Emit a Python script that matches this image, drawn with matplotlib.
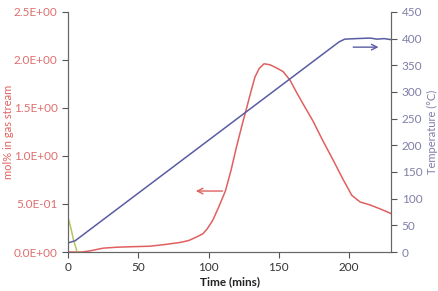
import matplotlib
matplotlib.use('Agg')
import matplotlib.pyplot as plt

plt.rcParams['font.family'] = ['Lato', 'DejaVu Sans']

# mol% in gas stream (red)
time_mol = [0, 5, 10, 15, 20, 25, 35, 45, 58, 70, 80, 86, 92, 96, 99, 103,
            107, 112, 116, 120, 124, 127.5, 130, 133, 136, 139.5, 143.7, 148,
            153, 158, 162, 167, 174.5, 181, 188.6, 196, 202, 208, 215, 222, 230]
mol = [0.0, 0.0, 0.0, 0.01, 0.025, 0.04, 0.05, 0.055, 0.06, 0.08, 0.10,
       0.12, 0.16, 0.19, 0.24, 0.33, 0.46, 0.635, 0.85, 1.10, 1.33, 1.52,
       1.66, 1.82, 1.91, 1.96, 1.95, 1.92, 1.88, 1.79, 1.68, 1.55, 1.36,
       1.17, 0.96, 0.75, 0.59, 0.52, 0.49, 0.45, 0.40]

# second species (green), only near t=0
time_green = [0, 2, 4, 6.5]
green = [0.36, 0.25, 0.12, 0.0]

# temperature (blue)
time_temp = [0, 5, 193, 197, 205, 215, 220, 225, 230]
temp = [17, 21, 394, 399, 400, 401, 399, 400, 398]

red = '#E0605F'
red_txt = '#DD6F6E'
blue = '#5A5CA3'
blue_txt = '#7E7EA8'

fig = plt.figure(figsize=(4.39, 2.91), dpi=100)
ax = fig.add_axes([0.155, 0.134, 0.736, 0.825])
ax2 = ax.twinx()

ax.plot(time_mol, mol, color=red, lw=1.1)
ax.plot(time_green, green, color='#B8C45E', lw=1.1)
ax2.plot(time_temp, temp, color=blue, lw=1.1)

ax.set_xlim(0, 230)
ax.set_ylim(0, 2.5)
ax2.set_ylim(0, 450)
ax.set_xticks([0, 50, 100, 150, 200])
ax.set_yticks([0, 0.5, 1.0, 1.5, 2.0, 2.5])
ax.set_yticklabels(['0.0E+00', '5.0E-01', '1.0E+00', '1.5E+00', '2.0E+00', '2.5E+00'])
ax2.set_yticks(range(0, 451, 50))

ax.tick_params(axis='y', colors=red_txt, labelsize=8.5, length=4, color='#555555')
ax.tick_params(axis='x', labelsize=8.5, length=4, color='#555555', labelcolor='#333333')
ax2.tick_params(axis='y', colors=blue_txt, labelsize=8.5, length=4, color='#555555')

for a in (ax, ax2):
    a.spines['top'].set_visible(False)
    for s in ('left', 'bottom', 'right'):
        a.spines[s].set_color('#666666')

ax.set_xlabel('Time (mins)', fontsize=8.5, fontweight='bold', color='#222222', labelpad=2)
ax.set_ylabel('mol% in gas stream', fontsize=8, color=red)
ax2.set_ylabel('Temperature (°C)', fontsize=8, color=blue_txt)
ax.yaxis.set_label_coords(-0.168, 0.5)
ax2.yaxis.set_label_coords(1.112, 0.5)

ax.annotate('', xy=(89, 0.635), xytext=(112, 0.635),
            arrowprops=dict(arrowstyle='->', color=red, lw=1))
ax2.annotate('', xy=(223, 384), xytext=(201, 384),
             arrowprops=dict(arrowstyle='->', color=blue, lw=1))

fig.savefig('out.png', dpi=100)
